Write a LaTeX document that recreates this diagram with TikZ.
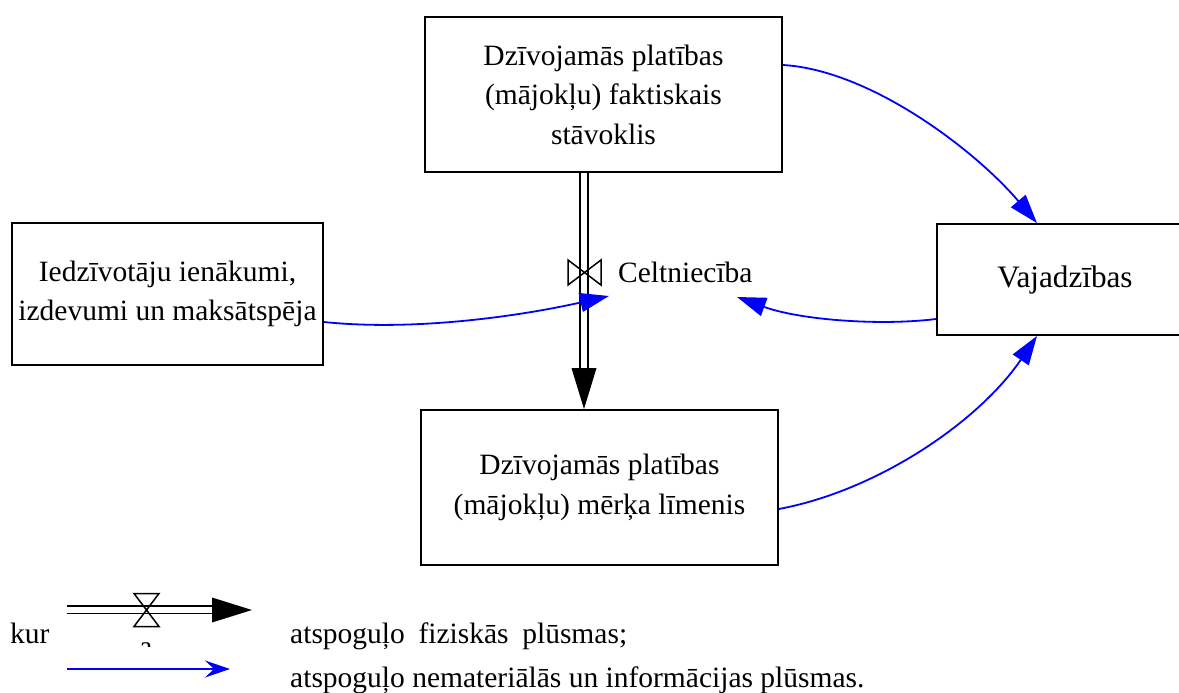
\documentclass[tikz,border=0pt]{standalone}
\usepackage{fontspec}
\setmainfont{Liberation Serif}
\usetikzlibrary{arrows.meta,calc}
\begin{document}
\begin{tikzpicture}[x=1pt,y=-1pt,
  every node/.style={font=\fontsize{29.5}{39.5}\selectfont},
  stockbox/.style={draw=black,line width=1.8pt,align=center,inner sep=0pt},
  info/.style={draw={rgb,255:red,0;green,0;blue,255},line width=1.8pt,
    -{Triangle[length=29pt,width=19pt]}},
  pipeline/.style={draw=black,line width=1.5pt},
  valve/.style={draw=black,line width=1.5pt},
  plain/.style={inner sep=0pt}]
\clip (0,0) rectangle (1179,693);
\definecolor{infoblue}{RGB}{0,0,255}

% boxes
\node[stockbox,minimum width=357pt,minimum height=155pt] (top) at (603.5,94.5)
  {Dzīvojamās platības\\(mājokļu) faktiskais\\stāvoklis};
\node[stockbox,minimum width=357pt,minimum height=155pt] (bot) at (599.5,487.5)
  {Dzīvojamās platības\\(mājokļu) mērķa līmenis};
\node[stockbox,minimum width=311pt,minimum height=142pt] (left) at (167.5,294)
  {Iedzīvotāju ienākumi,\\izdevumi un maksātspēja};
\node[stockbox,minimum width=256pt,minimum height=111pt,
  font=\fontsize{31.2}{40}\selectfont] (right) at (1065,279.5)
  {Vajadzības};

% flow pipe
\coordinate (ptop) at ([xshift=-19.5pt]top.south);
\coordinate (pbot) at (ptop |- bot.north);
\draw[pipeline] ($(ptop)+(-4,0)$) -- ($(pbot)+(-4,-41)$);
\draw[pipeline] ($(ptop)+(4,0)$) -- ($(pbot)+(4,-41)$);
\fill[black] (pbot) -- ++(-12.5,-41) -- ++(25,0) -- cycle;
\coordinate (valvec) at (584.5,272.5);
\draw[valve] (valvec) -- ++(-16.5,-12.5) -- ++(0,25) -- cycle;
\draw[valve] (valvec) -- ++(16.5,-12.5) -- ++(0,25) -- cycle;
\node[plain,anchor=west] (celt) at (618,272) {Celtniecība};

% information links
\coordinate (celtin) at (609,296);
\coordinate (celtout) at (737,297);
\draw[info] ([yshift=-28pt]left.east) .. controls (420,332) and (530,314) .. (celtin);
\draw[info] ([yshift=-39.5pt]right.west) .. controls (880,326) and (800,320) .. (celtout);
\draw[info] ([yshift=29.5pt]top.east) .. controls (870,70) and (975,150) .. ([xshift=-28pt]right.north);
\draw[info] ([yshift=-21.5pt]bot.east) .. controls (880,490) and (980,420) .. ([xshift=-28pt]right.south);

% legend
\node[plain,anchor=base west] (kur) at (10,643) {kur};
\coordinate (lstart) at (67,610);
\coordinate (ltip) at (252,610);
\draw[pipeline] ($(lstart)+(0,-4)$) -- ($(ltip)+(-40,-4)$);
\draw[pipeline] ($(lstart)+(0,3.5)$) -- ($(ltip)+(-40,3.5)$);
\fill[black] (ltip) -- ++(-40,-12.5) -- ++(0,25) -- cycle;
\coordinate (lvalve) at (146.5,610);
\draw[valve] (lvalve) -- ++(-12.5,-16.5) -- ++(25,0) -- cycle;
\draw[valve] (lvalve) -- ++(-12.5,16.5) -- ++(25,0) -- cycle;
\begin{scope}
  \clip (100,630) rectangle (200,646.5);
  \node[plain,anchor=base] (la) at (146,656) {a};
\end{scope}
\coordinate (bstart) at (67,669);
\coordinate (bend) at (230,669);
\draw[draw=infoblue,line width=1.8pt,-{Stealth[length=25pt,width=17pt,inset=9pt]}] (bstart) -- (bend);
\node[plain,anchor=base west] (leg1) at (290,643) {\makebox[337pt][s]{atspoguļo fiziskās plūsmas;}};
\node[plain,anchor=base west] (leg2) at (290,687) {atspoguļo nemateriālās un informācijas plūsmas.};
\end{tikzpicture}
\end{document}
